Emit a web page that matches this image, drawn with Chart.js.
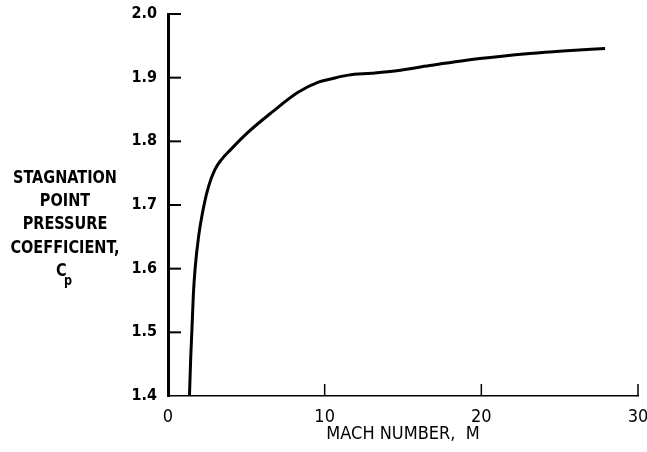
<!DOCTYPE html>
<html>
<head>
<meta charset="utf-8">
<script src="https://cdn.jsdelivr.net/npm/chart.js@4/dist/chart.umd.min.js"></script>
<style>
  html, body { margin: 0; padding: 0; background: #fff; }
  #wrap { width: 647px; height: 452px; }
</style>
</head>
<body>
<div id="wrap"><canvas id="myChart" width="647" height="452"></canvas></div>
<script>
// values
const mach = [1.37, 1.45, 1.52, 1.62, 1.73, 1.95, 2.3, 2.6, 3.0, 3.4, 4.0, 5.1, 6.6, 8.3, 9.6, 10.4, 11.5, 13.0, 14.6, 16.7, 19.9, 23.1, 25.2, 27.9];
const cp = [1.40, 1.46, 1.50, 1.56, 1.60, 1.65, 1.70, 1.73, 1.756, 1.771, 1.787, 1.814, 1.845, 1.877, 1.893, 1.898, 1.904, 1.907, 1.911, 1.919, 1.930, 1.938, 1.942, 1.946];
const xTicks = [0, 10, 20, 30];
const yTicks = [1.4, 1.5, 1.6, 1.7, 1.8, 1.9, 2.0];
const yTitle = ['STAGNATION', 'POINT', 'PRESSURE', 'COEFFICIENT,'];
const xTitle = 'MACH NUMBER,  M';

const FONT = "'Liberation Sans Narrow', 'DejaVu Sans Condensed', sans-serif";
Chart.defaults.font.family = FONT;
Chart.defaults.color = '#000';

// ticks point inward, into the plot, so draw them here
const inwardTicks = {
    id: 'inwardTicks',
    afterDatasetsDraw(chart) {
        const ctx = chart.ctx;
        const xs = chart.scales.x;
        const ys = chart.scales.y;
        ctx.save();
        ctx.strokeStyle = '#000';
        ctx.lineWidth = 2;
        yTicks.forEach(v => {
            if (v === ys.min) return;
            const py = ys.getPixelForValue(v);
            ctx.beginPath();
            ctx.moveTo(xs.left, py);
            ctx.lineTo(xs.left + 13, py);
            ctx.stroke();
        });
        ctx.lineWidth = 1.5;
        xTicks.forEach(v => {
            if (v === xs.min) return;
            const px = xs.getPixelForValue(v);
            ctx.beginPath();
            ctx.moveTo(px, ys.bottom);
            ctx.lineTo(px, ys.bottom - 12);
            ctx.stroke();
        });
        ctx.restore();
    }
};

// horizontal, stacked y axis label (tall, narrow letters like the original)
const sideLabel = {
    id: 'sideLabel',
    afterDraw(chart) {
        const ctx = chart.ctx;
        ctx.save();
        ctx.fillStyle = '#000';
        ctx.textAlign = 'center';
        ctx.textBaseline = 'middle';
        ctx.font = 'bold 18px ' + FONT;
        const squeeze = 104 / ctx.measureText(yTitle[0]).width;
        yTitle.forEach((t, i) => {
            const w = ctx.measureText(t).width * squeeze;
            ctx.fillText(t, 65, 178 + i * 23.3, w);
        });
        ctx.textAlign = 'left';
        ctx.fillText('C', 56, 271, ctx.measureText('C').width * squeeze);
        ctx.font = 'bold 14px ' + FONT;
        ctx.fillText('p', 64, 281, ctx.measureText('p').width * squeeze);
        ctx.restore();
    }
};

const ctx = document.getElementById('myChart').getContext('2d');
const myChart = new Chart(ctx, {
    type: 'line',
    data: {
        datasets: [{
            data: mach.map((m, i) => ({ x: m, y: cp[i] })),
            borderColor: '#000',
            borderWidth: 3,
            pointRadius: 0,
            fill: false,
            cubicInterpolationMode: 'monotone'
        }]
    },
    options: {
        responsive: false,
        animation: false,
        events: [],
        layout: { padding: { top: 14, right: 9, left: 0, bottom: 0 } },
        plugins: {
            legend: { display: false },
            tooltip: { enabled: false }
        },
        scales: {
            x: {
                type: 'linear',
                min: 0,
                max: 30,
                afterBuildTicks(scale) {
                    scale.ticks = xTicks.map(v => ({ value: v }));
                },
                afterFit(scale) {
                    scale.height = 56;
                    scale.paddingLeft = 0;
                    scale.paddingRight = 0;
                },
                grid: { display: false },
                border: { display: true, color: '#000', width: 1.5 },
                ticks: {
                    padding: 3,
                    font: { size: 18 },
                    maxRotation: 0
                },
                title: {
                    display: true,
                    text: xTitle,
                    font: { size: 18 },
                    padding: { top: 0, bottom: 7 }
                }
            },
            y: {
                type: 'linear',
                min: 1.4,
                max: 2.0,
                afterBuildTicks(scale) {
                    scale.ticks = yTicks.map(v => ({ value: v }));
                },
                afterFit(scale) {
                    scale.width = 168;
                    scale.paddingTop = 0;
                    scale.paddingBottom = 0;
                },
                grid: { display: false },
                border: { display: true, color: '#000', width: 3 },
                ticks: {
                    padding: 3,
                    font: { size: 16, weight: 'bold' },
                    callback: v => v.toFixed(1)
                }
            }
        }
    },
    plugins: [inwardTicks, sideLabel]
});
</script>
</body>
</html>
